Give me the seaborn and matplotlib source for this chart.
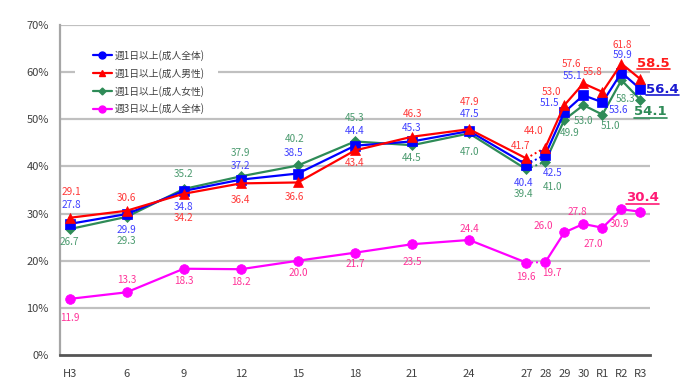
import matplotlib
matplotlib.use("Agg")
import matplotlib.pyplot as plt
import seaborn as sns
import pandas as pd
from matplotlib.lines import Line2D
from matplotlib.patches import Rectangle

# ---------------- data ----------------
years = [3, 6, 9, 12, 15, 18, 21, 24, 27, 28, 29, 30, 31, 32, 33]
year_labels = ["H3", "6", "9", "12", "15", "18", "21", "24", "27", "28", "29", "30", "R1", "R2", "R3"]
series_names = ["週1日以上(成人全体)", "週1日以上(成人男性)", "週1日以上(成人女性)", "週3日以上(成人全体)"]
weekly1_all = [27.8, 29.9, 34.8, 37.2, 38.5, 44.4, 45.3, 47.5, 40.4, 42.5, 51.5, 55.1, 53.6, 59.9, 56.4]
weekly1_men = [29.1, 30.6, 34.2, 36.4, 36.6, 43.4, 46.3, 47.9, 41.7, 44.0, 53.0, 57.6, 55.8, 61.8, 58.5]
weekly1_women = [26.7, 29.3, 35.2, 37.9, 40.2, 45.3, 44.5, 47.0, 39.4, 41.0, 49.9, 53.0, 51.0, 58.3, 54.1]
weekly3_all = [11.9, 13.3, 18.3, 18.2, 20.0, 21.7, 23.5, 24.4, 19.6, 19.7, 26.0, 27.8, 27.0, 30.9, 30.4]
y_ticks = [0, 10, 20, 30, 40, 50, 60, 70]

# ---------------- styles / layout ----------------
styles = {
    series_names[0]: dict(color="#0000ff", marker="s", ms=6.5, lab="#4040ff", big="#1a1ad0"),
    series_names[1]: dict(color="#ff0000", marker="^", ms=7, lab="#ff3838", big="#ff1a1a"),
    series_names[2]: dict(color="#2e8b57", marker="D", ms=5, lab="#4a9a6e", big="#2e8b57"),
    series_names[3]: dict(color="#ff00ff", marker="o", ms=7, lab="#ff3399", big="#ff1a75"),
}
# label offsets in pixels (dx, dy)
offsets = {
    series_names[0]: [(2, 19), (0, -16), (0, -16), (0, 14), (-4, 20), (0, 15), (0, 13), (0, 17),
                      (-3, -18), (7, -18), (-15, 9), (-11, 19), (16, -8), (1, 18), (22, 0)],
    series_names[1]: [(2, 26), (0, 13), (0, -24), (0, -17), (-3, -15), (0, -13), (0, 23), (0, 27),
                      (-6, 12), (-12, 17), (-13, 13), (-12, 19), (-10, 20), (1, 19), (13, 16)],
    series_names[2]: [(0, -13), (0, -24), (0, 15), (0, 23), (-3, 26), (0, 23), (0, -13), (0, -19),
                      (-3, -25), (7, -25), (5, -13), (0, -16), (8, -11), (4, -19), (10, -12)],
    series_names[3]: [(0, -19), (0, 12), (0, -12), (0, -13), (0, -12), (0, -11), (0, -18), (0, 11),
                      (0, -14), (7, -11), (-21, 6), (-6, 12), (-9, -16), (-2, -15), (2, 14)],
}

rows = []
for name, vals in zip(series_names, [weekly1_all, weekly1_men, weekly1_women, weekly3_all]):
    for i, (yr, v) in enumerate(zip(years, vals)):
        rows.append(dict(series=name, idx=i, year=yr, value=v))
df = pd.DataFrame(rows)

sns.set_style("white")
plt.rcParams["font.family"] = ["Noto Sans CJK JP", "DejaVu Sans"]

fig = plt.figure(figsize=(6.9, 3.92), dpi=100)
ax = fig.add_axes([60 / 690, 37 / 392, 590 / 690, 330 / 392])

# gridlines
for t in y_ticks[1:]:
    ax.axhline(t, color="#c0c0c0", lw=1.6, zorder=0)

draw_order = [series_names[3], series_names[2], series_names[0], series_names[1]]
for name in draw_order:
    st = styles[name]
    sub = df[df.series == name]
    seg_a = sub[sub.idx <= 8]
    seg_b = sub[sub.idx >= 9]
    seg_c = sub[(sub.idx >= 8) & (sub.idx <= 9)]
    sns.lineplot(data=seg_c, x="year", y="value", color=st["color"], lw=1.4,
                 linestyle=(0, (1, 1.5)), ax=ax, legend=False, zorder=3)
    for seg in (seg_a, seg_b):
        sns.lineplot(data=seg, x="year", y="value", color=st["color"], lw=1.6,
                     marker=st["marker"], markersize=st["ms"], markeredgecolor=st["color"],
                     markeredgewidth=0.5, ax=ax, legend=False, zorder=4)

# labels
big_texts = []
for name in series_names:
    st = styles[name]
    sub = df[df.series == name].sort_values("idx")
    for (i, r), (dx, dy) in zip(sub.iterrows(), offsets[name]):
        last = r["idx"] == len(years) - 1
        if last:
            t = ax.annotate(f"{r['value']:.1f}", (r["year"], r["value"]), xytext=(dx, dy),
                            textcoords="offset pixels", ha="center", va="center",
                            fontsize=9.5, fontweight="bold", color=st["big"], zorder=6,
                            family="DejaVu Sans")
            big_texts.append((t, st["big"]))
        else:
            ax.annotate(f"{r['value']:.1f}", (r["year"], r["value"]), xytext=(dx, dy),
                        textcoords="offset pixels", ha="center", va="center",
                        fontsize=7.2, color=st["lab"], zorder=6)

ax.set_xlim(2.5, 33.5)
ax.set_ylim(0, 70)
ax.set_xticks(years)
ax.set_xticklabels(year_labels)
ax.set_xticks([2.5 + 3 * k for k in range(11)], minor=True)
ax.tick_params(axis="x", which="major", length=0, pad=10, labelsize=8, labelcolor="#404040")
ax.tick_params(axis="x", which="minor", length=4, width=1.2, direction="in", color="#404040")
ax.set_yticks(y_ticks)
ax.set_yticklabels([f"{t}%" for t in y_ticks])
ax.tick_params(axis="y", length=0, pad=8, labelsize=8, labelcolor="#404040")
ax.set_xlabel("")
ax.set_ylabel("")

for s in ("top", "right"):
    ax.spines[s].set_visible(False)
ax.spines["left"].set_color("#a6a6a6")
ax.spines["left"].set_linewidth(1.6)
ax.spines["bottom"].set_color("#555555")
ax.spines["bottom"].set_linewidth(2.0)

# legend background box (white, no border)
ax.add_patch(Rectangle((0.0254, 0.74), 0.242, 0.215, transform=ax.transAxes,
                       facecolor="white", edgecolor="none", zorder=1))

handles = []
leg_markers = ["o", "^", "D", "o"]
for name, m in zip(series_names, leg_markers):
    st = styles[name]
    handles.append(Line2D([0], [0], color=st["color"], lw=1.6, marker=m,
                          markersize=5 if m != "D" else 3.5, markeredgecolor=st["color"]))
leg = ax.legend(handles, series_names, loc="upper left", bbox_to_anchor=(0.056, 0.925),
                frameon=False, fontsize=7, handlelength=1.9, labelspacing=0.72,
                borderpad=0, handletextpad=0.35, borderaxespad=0)
leg.set_zorder(5)
for t in leg.get_texts():
    t.set_color("#404040")

# underline the emphasised final values
fig.canvas.draw()
renderer = fig.canvas.get_renderer()
for t, c in big_texts:
    bb = t.get_window_extent(renderer)
    y = bb.y0 + 0.5
    fig.add_artist(Line2D([bb.x0 / fig.bbox.width, bb.x1 / fig.bbox.width],
                          [y / fig.bbox.height, y / fig.bbox.height],
                          color=c, lw=1.2, transform=fig.transFigure))

fig.savefig("out.png", dpi=100)
